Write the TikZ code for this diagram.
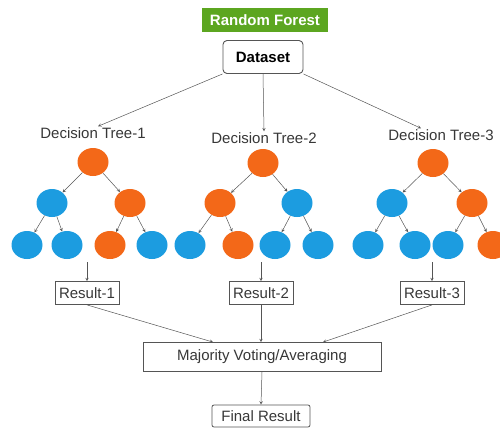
\documentclass[tikz,border=0pt]{standalone}
\usepackage{fontspec}
\setmainfont{Liberation Sans}
\usepackage{xcolor}
\usetikzlibrary{shapes.geometric}
\definecolor{rfgreen}{RGB}{92,166,32}
\definecolor{rforange}{RGB}{243,104,24}
\definecolor{rfblue}{RGB}{28,156,224}
\definecolor{rfline}{RGB}{85,85,85}
\definecolor{rftext}{RGB}{55,55,55}

\begin{document}
\begin{tikzpicture}[x=1pt,y=-1pt,>=stealth,
  font=\fontsize{15}{18}\selectfont,
  onode/.style={ellipse,fill=rforange,minimum width=31pt,minimum height=28pt,inner sep=0pt},
  bnode/.style={ellipse,fill=rfblue,minimum width=31pt,minimum height=28pt,inner sep=0pt},
  edge/.style={->,draw=rfline,line width=0.5pt},
  label/.style={text=rftext,inner sep=1pt},
  resbox/.style={draw=rfline,line width=0.8pt,text=rftext,inner xsep=4pt,minimum height=23pt}]
\useasboundingbox (0,0) rectangle (500,428);

% title and data
\node[fill=rfgreen,text=white,font=\fontsize{15}{18}\selectfont\bfseries,minimum width=126pt,minimum height=24pt] (rf) at (265,20) {Random Forest};
\node[draw=rfline,line width=0.9pt,rounded corners=4pt,font=\fontsize{15}{18}\selectfont\bfseries,minimum width=80pt,minimum height=33pt] (ds) at (263,57) {Dataset};

\node[label] (dt1) at (93,133) {Decision Tree-1};
\node[label] (dt2) at (264,138) {Decision Tree-2};
\node[label] (dt3) at (441,135) {Decision Tree-3};

\draw[edge] (ds.south west) -- ([xshift=5pt]dt1.north);
\draw[edge] (ds.south) -- (dt2.north);
\draw[edge] (ds.south east) -- ([xshift=-20pt]dt3.north);

% tree 1
\node[onode] (t1r) at (93,162) {};
\node[bnode] (t1a) at (52,203) {};
\node[onode] (t1b) at (130,203) {};
\node[bnode] (t1c) at (27,245) {};
\node[bnode] (t1d) at (67,245) {};
\node[onode] (t1e) at (110,245) {};
\node[bnode] (t1f) at (152,245) {};
% tree 2
\node[onode] (t2r) at (263,163) {};
\node[onode] (t2a) at (220,203) {};
\node[bnode] (t2b) at (297,203) {};
\node[bnode] (t2c) at (190,245) {};
\node[onode] (t2d) at (238,245) {};
\node[bnode] (t2e) at (275,245) {};
\node[bnode] (t2f) at (318,245) {};
% tree 3
\node[onode] (t3r) at (433,163) {};
\node[bnode] (t3a) at (392,203) {};
\node[onode] (t3b) at (472,203) {};
\node[bnode] (t3c) at (368,245) {};
\node[bnode] (t3d) at (415,245) {};
\node[bnode] (t3e) at (448,245) {};
\node[onode] (t3f) at (493,245) {};

\foreach \t in {1,2,3} {
  \draw[edge] (t\t r) -- (t\t a);
  \draw[edge] (t\t r) -- (t\t b);
  \draw[edge] (t\t a) -- (t\t c);
  \draw[edge] (t\t a) -- (t\t d);
  \draw[edge] (t\t b) -- (t\t e);
  \draw[edge] (t\t b) -- (t\t f);
}

% results
\node[resbox] (r1) at (87,293) {Result-1};
\node[resbox] (r2) at (261,293) {Result-2};
\node[resbox] (r3) at (432,293) {Result-3};
\coordinate (o1) at (87,262);
\coordinate (o2) at (261,262);
\coordinate (o3) at (432,262);
\draw[edge] (o1) -- (r1.north);
\draw[edge] (o2) -- (r2.north);
\draw[edge] (o3) -- (r3.north);

\node[resbox,minimum width=238pt,minimum height=29pt] (mv) at (262,357) {Majority Voting/Averaging};
\draw[edge] (r1.south) -- ([xshift=-49pt]mv.north);
\draw[edge] (r2.south) -- ([xshift=-1pt]mv.north);
\draw[edge] (r3.south) -- ([xshift=61pt]mv.north);

\node[resbox,rounded corners=2pt,minimum width=98pt,minimum height=22pt] (fr) at (261,416) {Final Result};
\draw[edge] (mv.south) -- (fr.north);
\end{tikzpicture}
\end{document}
